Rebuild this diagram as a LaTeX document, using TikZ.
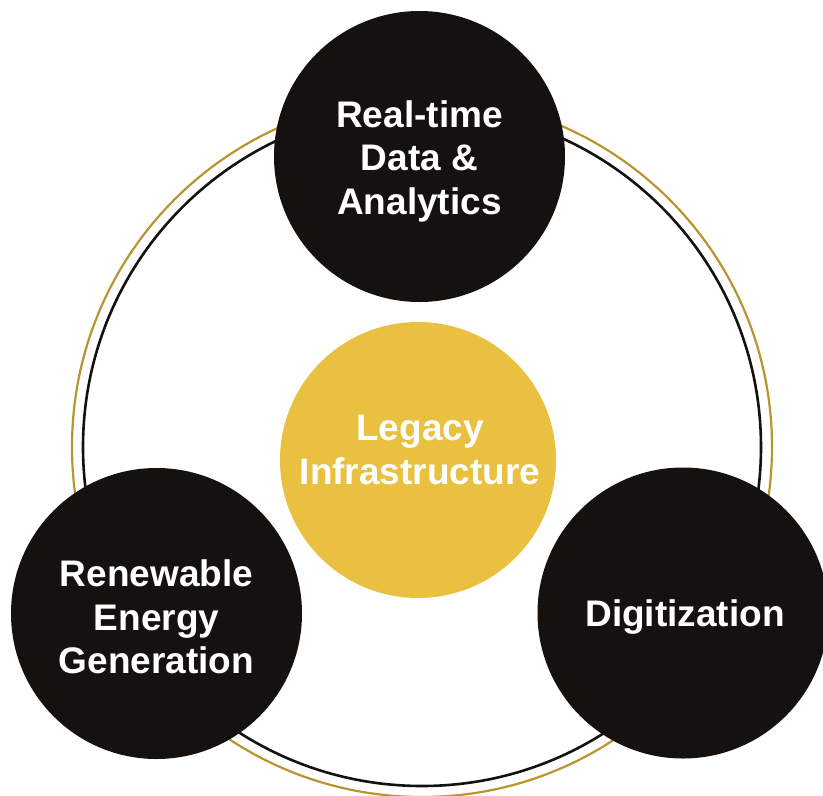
\documentclass[tikz,border=0pt]{standalone}
\usepackage{fontspec}
\setmainfont{Liberation Sans}
\definecolor{ringgold}{HTML}{B8952F}
\definecolor{coregold}{HTML}{E9C040}
\definecolor{nearblack}{HTML}{15110E}
\begin{document}
\begin{tikzpicture}[x=1pt,y=-1pt,
                    main node/.style={circle,fill=nearblack,draw=none,inner sep=0pt,
                                      minimum size=291pt},
                    core node/.style={main node,fill=coregold,minimum size=276pt},
                    word/.style={text=white,align=center,inner sep=0pt,
                                 font=\bfseries\fontsize{37}{43.5}\selectfont}
                   ]
    \useasboundingbox (0,0) rectangle (823,796);
    \clip (0,0) rectangle (823,796);
    % the two rings behind everything
    \draw[ringgold,line width=2.2pt] (422,447) circle (350);
    \draw[nearblack,line width=2.6pt] (422,447) circle (339);
    \node[core node] (L) at (418,460) {};
    \node[main node] (1) at (419.5,156.5) {};
    \node[main node] (2) at (156.5,613.5) {};
    \node[main node] (3) at (683,613) {};
    % texts, set a little below the centres
    \node[word] (Ltext) at (420,450) {Legacy\\Infrastructure};
    \node[word] (1text) at (419.5,161) {Real-time\\Data \&\\Analytics};
    \node[word] (2text) at (156.5,617) {Renewable\\Energy\\Generation};
    \node[word] (3text) at (685,617) {Digitization};
\end{tikzpicture}
\end{document}
